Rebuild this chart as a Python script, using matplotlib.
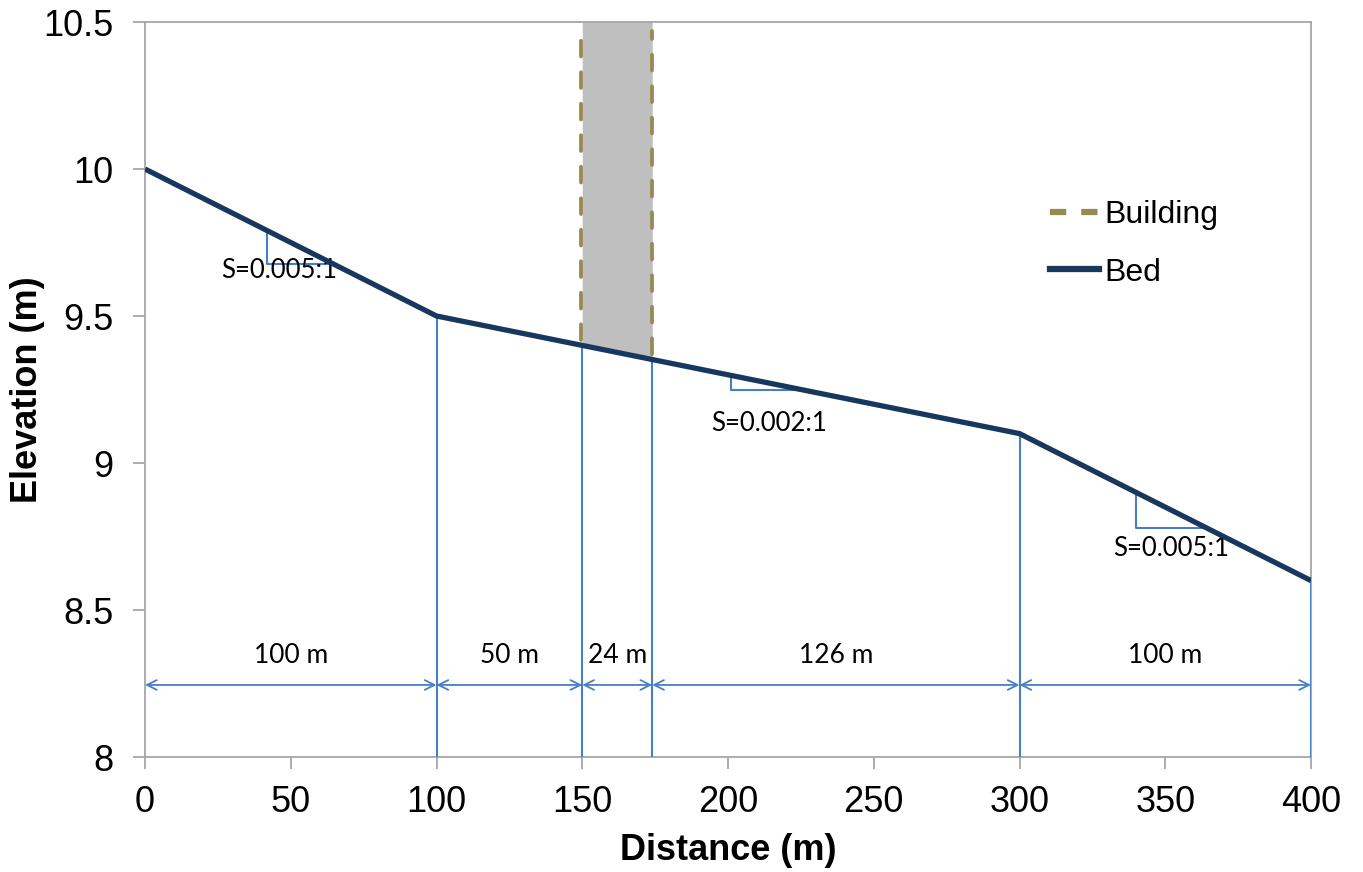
import matplotlib
matplotlib.use("Agg")
import matplotlib.pyplot as plt
from matplotlib.lines import Line2D
import numpy as np

# Data
dist = [0, 100, 150, 174, 300, 400]
bed = [10.0, 9.5, 9.4, 9.352, 9.1, 8.6]
building_x = [150, 174]
dim_labels = ["100 m", "50 m", "24 m", "126 m", "100 m"]
slope_tri_x0 = [42, 201, 340]
slope_tri_x1 = [64.5, 226, 364]
slope_labels = ["S=0.005:1", "S=0.002:1", "S=0.005:1"]
slope_label_x = [46, 214, 352]
slope_label_y = [9.655, 9.135, 8.71]
xticks = [0, 50, 100, 150, 200, 250, 300, 350, 400]
yticks = [8, 8.5, 9, 9.5, 10, 10.5]
ytick_labels = ["8", "8.5", "9", "9.5", "10", "10.5"]

BED_C = "#17375E"
BLD_C = "#948A54"
BLUE = "#4A7EC4"
GRID_C = "#A6A6A6"
SANS = "Liberation Sans"
CAL = ["Lato", "DejaVu Sans"]

fig = plt.figure(figsize=(13.63, 8.72), dpi=100)
ax = fig.add_axes([145/1363, 1 - 757/872, (1311-145)/1363, (757-22)/872])
ax.set_xlim(0, 400)
ax.set_ylim(8, 10.5)

def bed_at(x):
    return np.interp(x, dist, bed)

# building fill
bx = np.linspace(building_x[0], building_x[1], 20)
ax.fill_between(bx, bed_at(bx), 10.5, color="#BFBFBF", zorder=1, lw=0)
for xb in building_x:
    xx = xb - 0.4 if xb == building_x[0] else xb
    ax.plot([xx, xx], [bed_at(xb) + 0.02, 10.47], color=BLD_C, lw=2.7,
            ls=(0, (4.2, 4.2)), zorder=2, dash_capstyle="round")

# vertical blue lines
for xv in dist[1:]:
    ax.plot([xv, xv], [8, bed_at(xv)], color=BLUE, lw=1.5, zorder=3)

# bed line
ax.plot(dist, bed, color=BED_C, lw=3.8, zorder=4, solid_capstyle="butt")

# dimension arrows
y_arrow = 8.245
for i in range(len(dist) - 1):
    ax.annotate("", xy=(dist[i+1], y_arrow), xytext=(dist[i], y_arrow),
                arrowprops=dict(arrowstyle="<->,head_length=0.7,head_width=0.35",
                                color=BLUE, lw=1.3, shrinkA=0, shrinkB=0),
                zorder=5)
    ax.text((dist[i] + dist[i+1]) / 2, 8.345, dim_labels[i], ha="center",
            va="center", fontsize=19, family=CAL)

# slope triangles
for x0, x1, lab, lx, ly in zip(slope_tri_x0, slope_tri_x1, slope_labels,
                               slope_label_x, slope_label_y):
    y0 = bed_at(x0)
    y1 = bed_at(x1)
    ax.plot([x0, x0, x1], [y0, y1, y1], color=BLUE, lw=1.5, zorder=3)
    ax.text(lx, ly, lab, ha="center", va="center", fontsize=18.5, family=CAL)

# legend
handles = [Line2D([], [], color=BLD_C, lw=4.5, ls=(0, (2.6, 2.4))),
           Line2D([], [], color=BED_C, lw=4.5)]
leg = ax.legend(handles, ["Building", "Bed"], loc="center left",
                bbox_to_anchor=(0.776, 0.698), frameon=False,
                prop=dict(family=SANS, size=23), handlelength=1.55,
                handletextpad=0.15, labelspacing=0.85, borderpad=0,
                borderaxespad=0)

# axes style
for s in ax.spines.values():
    s.set_color(GRID_C)
    s.set_linewidth(1.3)
ax.set_xticks(xticks)
ax.set_yticks(yticks)
ax.set_yticklabels(ytick_labels)
ax.tick_params(axis="both", direction="out", length=8.5, width=1.3, color=GRID_C,
               labelsize=26)
ax.tick_params(axis="y", pad=14)
ax.tick_params(axis="x", pad=12)
for t in ax.get_xticklabels() + ax.get_yticklabels():
    t.set_family(SANS)
ax.set_xlabel("Distance (m)", fontsize=26, fontweight="bold", family=SANS)
ax.set_ylabel("Elevation (m)", fontsize=26, fontweight="bold", family=SANS)
ax.xaxis.set_label_coords(0.5, -0.104)
ax.yaxis.set_label_coords(-0.086, 0.5)

fig.savefig("out.png", dpi=100)
